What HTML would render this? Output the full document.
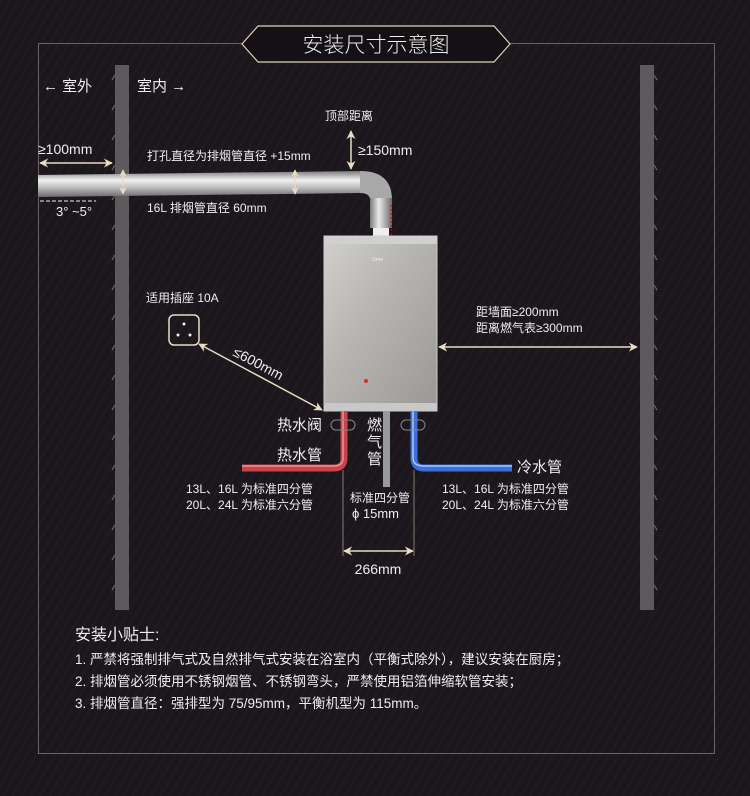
<!DOCTYPE html>
<html><head><meta charset="utf-8"><style>
html,body{margin:0;padding:0;background:#1b171c;}
svg{display:block}
text{font-family:"Liberation Sans","Noto Sans CJK SC",sans-serif;fill:#eee;}
</style></head><body>
<svg width="750" height="796" viewBox="0 0 750 796" xmlns="http://www.w3.org/2000/svg">
<defs>
<pattern id="st" width="8" height="8" patternUnits="userSpaceOnUse" patternTransform="rotate(-60)">
<rect width="8" height="8" fill="#1b171c"/><rect width="8" height="2" fill="#201b21"/></pattern>
<linearGradient id="pipeH" x1="0" y1="0" x2="0" y2="1">
<stop offset="0" stop-color="#7a7a7a"/><stop offset="0.35" stop-color="#f0f0f0"/><stop offset="0.6" stop-color="#c4c4c4"/><stop offset="1" stop-color="#6a6a6a"/></linearGradient>
<linearGradient id="pipeV" x1="0" y1="0" x2="1" y2="0">
<stop offset="0" stop-color="#7a7a7a"/><stop offset="0.4" stop-color="#eaeaea"/><stop offset="1" stop-color="#6a6a6a"/></linearGradient>
<linearGradient id="heat" x1="0" y1="0" x2="1" y2="1">
<stop offset="0" stop-color="#d2d0cc"/><stop offset="0.4" stop-color="#b8b6b2"/><stop offset="1" stop-color="#9a9894"/></linearGradient>
<marker id="ar" viewBox="0 0 10 10" refX="9" refY="5" markerWidth="6" markerHeight="6" orient="auto-start-reverse"><path d="M0,0L10,5L0,10L3,5z" fill="#e8dcc4"/></marker>
</defs>
<rect width="750" height="796" fill="url(#st)"/>
<rect x="38.5" y="43.5" width="676" height="710" fill="none" stroke="#6a6468" stroke-width="1"/>
<polygon points="242,44 258,26 494,26 510,44 494,62 258,62" fill="#141014" stroke="#e0d2b8" stroke-width="1.2"/>
<text x="376" y="52" font-size="21" text-anchor="middle" fill="#e8e0d0" font-weight="300">安装尺寸示意图</text>
<rect x="115" y="65" width="14" height="545" fill="#5c5a5c"/>
<rect x="640" y="65" width="14" height="545" fill="#5c5a5c"/>
<g stroke="#6c6a6c" stroke-width="1.2">
<path d="M112,80l3,-5M112,110l3,-5M112,140l3,-5M112,170l3,-5M112,200l3,-5M112,230l3,-5M112,260l3,-5M112,290l3,-5M112,320l3,-5M112,350l3,-5M112,380l3,-5M112,410l3,-5M112,440l3,-5M112,470l3,-5M112,500l3,-5M112,530l3,-5M112,560l3,-5M112,590l3,-5"/>
<path d="M654,75l3,5M654,105l3,5M654,135l3,5M654,165l3,5M654,195l3,5M654,225l3,5M654,255l3,5M654,285l3,5M654,315l3,5M654,345l3,5M654,375l3,5M654,405l3,5M654,435l3,5M654,465l3,5M654,495l3,5M654,525l3,5M654,555l3,5M654,585l3,5"/>
</g>
<text x="43" y="91" font-size="15">← 室外</text>
<text x="137" y="91" font-size="15">室内 →</text>
<path d="M38,175 L360,171 L360,193 L38,197z" fill="url(#pipeH)"/>
<path d="M360,171 Q392,171 392,200 L370,200 Q370,193 360,193z" fill="#a8a8a8"/>
<rect x="370" y="198" width="22" height="30" fill="url(#pipeV)"/>
<rect x="373" y="228" width="16" height="9" fill="#eee"/>
<line x1="391" y1="205" x2="391" y2="235" stroke="#d00" stroke-dasharray="2,2"/>
<line x1="40" y1="201" x2="96" y2="201" stroke="#eee" stroke-dasharray="4,2"/>
<text x="56" y="216" font-size="13">3° ~5°</text>
<line x1="40" y1="163" x2="112" y2="163" stroke="#e8dcc4" stroke-width="1.5" marker-start="url(#ar)" marker-end="url(#ar)"/>
<text x="38" y="154" font-size="14">≥100mm</text>
<text x="147" y="160" font-size="12">打孔直径为排烟管直径 +15mm</text>
<text x="147" y="212" font-size="12">16L 排烟管直径 60mm</text>
<line x1="123" y1="170" x2="123" y2="194" stroke="#e8dcc4" stroke-width="1.3" marker-start="url(#ar)" marker-end="url(#ar)"/>
<line x1="295" y1="170" x2="295" y2="194" stroke="#e8dcc4" stroke-width="1.3" marker-start="url(#ar)" marker-end="url(#ar)"/>
<text x="325" y="120" font-size="12">顶部距离</text>
<line x1="351" y1="131" x2="351" y2="169" stroke="#e8dcc4" stroke-width="1.5" marker-start="url(#ar)" marker-end="url(#ar)"/>
<text x="358" y="155" font-size="14">≥150mm</text>
<rect x="324" y="236" width="113" height="175" fill="url(#heat)" stroke="#ccc"/>
<rect x="324" y="236" width="113" height="8" fill="#d0d0d0"/>
<rect x="324" y="403" width="113" height="8" fill="#c8c8c8"/>
<text x="372" y="261" font-size="5" fill="#eee">Gree</text>
<circle cx="366" cy="381" r="2" fill="#c33"/>
<text x="146" y="302" font-size="12">适用插座 10A</text>
<rect x="169" y="315" width="30" height="30" rx="5" fill="none" stroke="#e8dcc4" stroke-width="1.5"/>
<circle cx="184" cy="324" r="1.5" fill="#eee"/><circle cx="178" cy="335" r="1.5" fill="#eee"/><circle cx="190" cy="335" r="1.5" fill="#eee"/>
<line x1="199" y1="344" x2="322" y2="410" stroke="#e8dcc4" stroke-width="1.5" marker-start="url(#ar)" marker-end="url(#ar)"/>
<text x="232" y="355" font-size="14" transform="rotate(28 232 355)">≤600mm</text>
<text x="476" y="316" font-size="12">距墙面≥200mm</text>
<text x="476" y="332" font-size="12">距离燃气表≥300mm</text>
<line x1="439" y1="347" x2="637" y2="347" stroke="#e8dcc4" stroke-width="1.5" marker-start="url(#ar)" marker-end="url(#ar)"/>
<path d="M344,411 L344,458 Q344,468 334,468 L242,468" fill="none" stroke="#c8434a" stroke-width="7"/>
<path d="M343,411 L343,458 Q343,466 334,466 L242,466" fill="none" stroke="#f09098" stroke-width="1.5"/>
<rect x="383" y="411" width="7" height="76" fill="#9a9a9a"/>
<path d="M414,411 L414,458 Q414,468 424,468 L512,468" fill="none" stroke="#3e6fd8" stroke-width="7"/>
<path d="M413,411 L413,458 Q413,466 424,466 L512,466" fill="none" stroke="#a8c6ff" stroke-width="1.5"/>
<rect x="331" y="420" width="24" height="10" rx="5" fill="none" stroke="#888"/>
<rect x="401" y="420" width="24" height="10" rx="5" fill="none" stroke="#888"/>
<text x="277" y="430" font-size="15">热水阀</text>
<text x="277" y="460" font-size="15">热水管</text>
<text x="367" y="430" font-size="15">燃</text>
<text x="367" y="447" font-size="15">气</text>
<text x="367" y="464" font-size="15">管</text>
<text x="517" y="472" font-size="15">冷水管</text>
<text x="186" y="493" font-size="12">13L、16L 为标准四分管</text>
<text x="186" y="509" font-size="12">20L、24L 为标准六分管</text>
<text x="442" y="493" font-size="12">13L、16L 为标准四分管</text>
<text x="442" y="509" font-size="12">20L、24L 为标准六分管</text>
<text x="350" y="502" font-size="12">标准四分管</text>
<text x="352" y="518" font-size="13">ϕ 15mm</text>
<line x1="343" y1="470" x2="343" y2="556" stroke="#8a7a6a"/>
<line x1="414" y1="470" x2="414" y2="556" stroke="#8a7a6a"/>
<line x1="344" y1="551" x2="413" y2="551" stroke="#e8dcc4" stroke-width="1.5" marker-start="url(#ar)" marker-end="url(#ar)"/>
<text x="378" y="574" font-size="14" text-anchor="middle">266mm</text>
<text x="75" y="640" font-size="16" fill="#ded4c0">安装小贴士:</text>
<text x="75" y="664" font-size="13.5">1. 严禁将强制排气式及自然排气式安装在浴室内（平衡式除外），建议安装在厨房；</text>
<text x="75" y="686" font-size="13.5">2. 排烟管必须使用不锈钢烟管、不锈钢弯头，严禁使用铝箔伸缩软管安装；</text>
<text x="75" y="708" font-size="13.5">3. 排烟管直径：强排型为 75/95mm，平衡机型为 115mm。</text>
</svg>
</body></html>
